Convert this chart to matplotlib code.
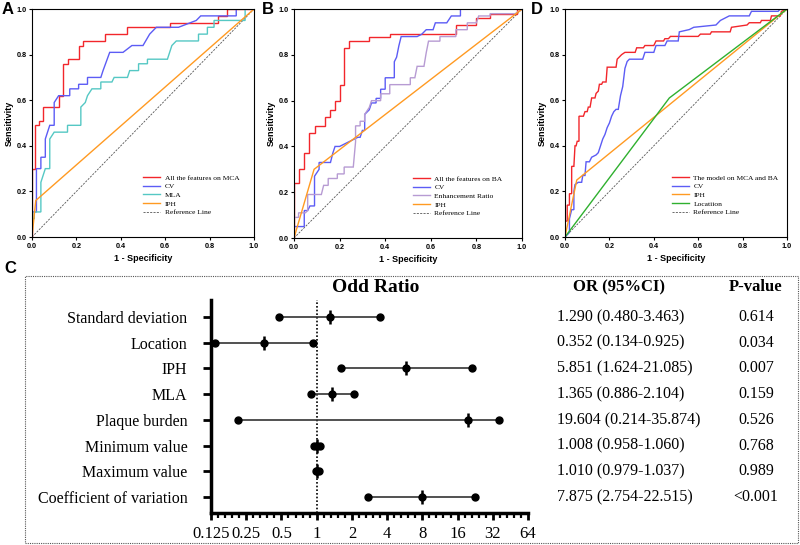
import numpy as np
import matplotlib
matplotlib.use('Agg')
import matplotlib.pyplot as plt
from matplotlib.patches import Rectangle
from matplotlib.transforms import blended_transform_factory
from matplotlib.ticker import FixedLocator

# ROC vertices: (1 - specificity, sensitivity)
mca_all = [(0, 0), (0, 0.30), (0.015, 0.30), (0.015, 0.49), (0.03, 0.49), (0.03, 0.51), (0.05, 0.51),
           (0.05, 0.57), (0.12, 0.57), (0.12, 0.62), (0.14, 0.62), (0.14, 0.76), (0.16, 0.76), (0.16, 0.78),
           (0.21, 0.78), (0.21, 0.84), (0.23, 0.84), (0.23, 0.86), (0.33, 0.86), (0.33, 0.89), (0.43, 0.89),
           (0.43, 0.92), (0.62, 0.92), (0.62, 0.94), (0.84, 0.94), (0.84, 0.97), (0.88, 0.97), (0.88, 1.0), (1, 1)]
mca_cv = [(0, 0), (0, 0.11), (0.02, 0.11), (0.02, 0.30), (0.04, 0.30), (0.04, 0.35), (0.06, 0.35), (0.06, 0.43),
          (0.07, 0.46), (0.08, 0.49), (0.10, 0.49), (0.10, 0.59), (0.12, 0.62), (0.17, 0.62), (0.17, 0.65),
          (0.21, 0.65), (0.21, 0.67), (0.25, 0.67), (0.25, 0.70), (0.31, 0.70), (0.32, 0.73), (0.35, 0.81),
          (0.41, 0.81), (0.45, 0.84), (0.50, 0.84), (0.53, 0.89), (0.56, 0.92), (0.66, 0.92), (0.74, 0.95),
          (0.76, 0.97), (0.92, 0.97), (0.92, 1.0), (1, 1)]
mca_mla = [(0, 0), (0, 0.08), (0.01, 0.08), (0.01, 0.11), (0.04, 0.11), (0.04, 0.24), (0.05, 0.27), (0.06, 0.30),
           (0.08, 0.30), (0.08, 0.43), (0.10, 0.46), (0.16, 0.46), (0.16, 0.49), (0.22, 0.49), (0.22, 0.57),
           (0.24, 0.59), (0.25, 0.62), (0.27, 0.65), (0.31, 0.65), (0.31, 0.68), (0.36, 0.68), (0.37, 0.70),
           (0.43, 0.70), (0.44, 0.73), (0.48, 0.73), (0.48, 0.76), (0.52, 0.76), (0.52, 0.78), (0.61, 0.78),
           (0.63, 0.84), (0.65, 0.86), (0.75, 0.86), (0.75, 0.89), (0.79, 0.89), (0.79, 0.92), (0.82, 0.92),
           (0.82, 0.95), (0.96, 0.95), (0.96, 1.0), (1, 1)]
mca_iph = [(0, 0), (0.017, 0.16), (1, 1)]

ba_all = [(0, 0), (0, 0.24), (0.02, 0.24), (0.02, 0.30), (0.045, 0.30), (0.045, 0.37), (0.066, 0.37),
          (0.066, 0.46), (0.09, 0.46), (0.09, 0.49), (0.135, 0.49), (0.135, 0.53), (0.157, 0.53), (0.157, 0.56),
          (0.18, 0.56), (0.18, 0.60), (0.20, 0.60), (0.20, 0.67), (0.22, 0.67), (0.22, 0.83), (0.24, 0.83),
          (0.24, 0.86), (0.33, 0.86), (0.33, 0.88), (0.42, 0.88), (0.42, 0.89), (0.71, 0.89), (0.71, 0.93),
          (0.80, 0.93), (0.80, 0.96), (0.86, 0.96), (0.86, 0.98), (0.98, 0.98), (0.98, 1.0), (1, 1)]
ba_cv = [(0, 0), (0, 0.05), (0.045, 0.05), (0.045, 0.12), (0.06, 0.12), (0.07, 0.14), (0.09, 0.14),
         (0.09, 0.27), (0.11, 0.30), (0.11, 0.33), (0.16, 0.33), (0.17, 0.37), (0.18, 0.40), (0.20, 0.40),
         (0.28, 0.44), (0.29, 0.44), (0.30, 0.47), (0.31, 0.47), (0.31, 0.54), (0.33, 0.56), (0.34, 0.59),
         (0.36, 0.59), (0.36, 0.61), (0.38, 0.61), (0.38, 0.65), (0.40, 0.65), (0.40, 0.70), (0.44, 0.70),
         (0.44, 0.77), (0.45, 0.79), (0.46, 0.84), (0.47, 0.88), (0.54, 0.88), (0.56, 0.89), (0.58, 0.91),
         (0.61, 0.91), (0.62, 0.94), (0.67, 0.94), (0.69, 0.97), (0.73, 0.97), (0.73, 1.0), (1, 1)]
ba_er = [(0, 0), (0, 0.09), (0.02, 0.09), (0.02, 0.11), (0.05, 0.11), (0.06, 0.12), (0.06, 0.19), (0.12, 0.19),
         (0.13, 0.23), (0.15, 0.23), (0.15, 0.26), (0.19, 0.26), (0.19, 0.28), (0.22, 0.28), (0.22, 0.31),
         (0.26, 0.31), (0.27, 0.42), (0.27, 0.49), (0.29, 0.49), (0.29, 0.51), (0.31, 0.51), (0.31, 0.54),
         (0.33, 0.57), (0.34, 0.60), (0.38, 0.60), (0.38, 0.63), (0.42, 0.63), (0.42, 0.67), (0.51, 0.67),
         (0.51, 0.70), (0.53, 0.70), (0.54, 0.75), (0.57, 0.75), (0.58, 0.81), (0.59, 0.86), (0.64, 0.86),
         (0.64, 0.88), (0.71, 0.88), (0.71, 0.91), (0.76, 0.91), (0.76, 0.94), (0.80, 0.94), (0.81, 0.97),
         (0.86, 0.97), (0.86, 0.98), (0.97, 0.98), (1, 1)]
ba_iph = [(0, 0), (0.088, 0.30), (1, 1)]

both_model = [(0, 0), (0, 0.07), (0.01, 0.07), (0.01, 0.14), (0.02, 0.14), (0.02, 0.19), (0.03, 0.19),
              (0.03, 0.31), (0.04, 0.31), (0.045, 0.40), (0.05, 0.40), (0.055, 0.42), (0.063, 0.42),
              (0.063, 0.53), (0.083, 0.53), (0.09, 0.55), (0.10, 0.55), (0.105, 0.57), (0.113, 0.57),
              (0.12, 0.61), (0.135, 0.61), (0.14, 0.63), (0.15, 0.64), (0.155, 0.67), (0.165, 0.67),
              (0.17, 0.68), (0.185, 0.68), (0.19, 0.745), (0.23, 0.745), (0.235, 0.78), (0.245, 0.79),
              (0.255, 0.80), (0.27, 0.81), (0.316, 0.81), (0.323, 0.83), (0.353, 0.83), (0.36, 0.84),
              (0.40, 0.84), (0.41, 0.86), (0.444, 0.86), (0.45, 0.87), (0.466, 0.87), (0.475, 0.88),
              (0.60, 0.88), (0.61, 0.89), (0.654, 0.89), (0.66, 0.90), (0.744, 0.90), (0.75, 0.92),
              (0.82, 0.93), (0.83, 0.94), (0.88, 0.94), (0.885, 0.95), (0.925, 0.95), (0.93, 0.97),
              (0.97, 0.97), (0.975, 0.99), (1, 1)]
both_cv = [(0, 0), (0.02, 0.02), (0.02, 0.08), (0.03, 0.12), (0.04, 0.12), (0.04, 0.20), (0.045, 0.23),
           (0.06, 0.24), (0.075, 0.24), (0.08, 0.27), (0.09, 0.27), (0.095, 0.33), (0.11, 0.33), (0.12, 0.35),
           (0.14, 0.36), (0.15, 0.37), (0.16, 0.40), (0.17, 0.43), (0.18, 0.45), (0.19, 0.48), (0.20, 0.50),
           (0.21, 0.53), (0.22, 0.55), (0.23, 0.56), (0.24, 0.56), (0.25, 0.62), (0.26, 0.66), (0.27, 0.74),
           (0.28, 0.77), (0.29, 0.78), (0.35, 0.78), (0.36, 0.81), (0.40, 0.81), (0.41, 0.84), (0.45, 0.84),
           (0.46, 0.86), (0.51, 0.86), (0.515, 0.90), (0.56, 0.91), (0.58, 0.92), (0.68, 0.93), (0.70, 0.95),
           (0.74, 0.97), (0.83, 0.97), (0.84, 0.99), (0.96, 0.99), (0.97, 1.0), (1, 1)]
both_iph = [(0, 0), (0.053, 0.25), (1, 1)]
both_loc = [(0, 0), (0.47, 0.61), (1, 1)]

# forest plot / table values
factors = ['Standard deviation', 'Location', 'IPH', 'MLA', 'Plaque burden',
           'Minimum value', 'Maximum value', 'Coefficient of variation']
odds = [1.290, 0.352, 5.851, 1.365, 19.604, 1.008, 1.010, 7.875]
ci_low = [0.480, 0.134, 1.624, 0.886, 0.214, 0.958, 0.979, 2.754]
ci_high = [3.463, 0.925, 21.085, 2.104, 35.874, 1.060, 1.037, 22.515]
p_values = ['0.614', '0.034', '0.007', '0.159', '0.526', '0.768', '0.989', '<0.001']
or_ticks = [0.125, 0.25, 0.5, 1, 2, 4, 8, 16, 32, 64]
or_tick_labels = ['0.125', '0.25', '0.5', '1', '2', '4', '8', '16', '32', '64']

RED = '#f2262b'
BLUE = '#5c5cf5'
CYAN = '#55c8c4'
ORANGE = '#ff9a22'
PURPLE = '#b79bd3'
GREEN = '#2fb02f'
SANS = 'Liberation Sans'
SERIF = 'Liberation Serif'

fig = plt.figure(figsize=(8, 5.45), dpi=100)


def roc_panel(rect, curves, leg_x):
    ax = fig.add_axes(rect)
    for pts, color, label in curves:
        xy = np.array(pts)
        ax.plot(xy[:, 0], xy[:, 1], color=color, lw=1.0, label=label, solid_joinstyle='miter')
    ax.plot([0, 1], [0, 1], color='#555555', lw=0.6, ls=(0, (2.5, 1.5)), label='Reference Line', zorder=1)
    ax.set_xlim(0, 1)
    ax.set_ylim(0, 1)
    ticks = np.arange(0, 1.01, 0.2)
    ax.set_xticks(ticks)
    ax.set_yticks(ticks)
    ax.set_xticklabels([f'{t:.1f}' for t in ticks])
    ax.set_yticklabels([f'{t:.1f}' for t in ticks])
    ax.tick_params(length=2.5, width=0.8, pad=1.5, labelsize=5.2)
    for lab in ax.get_xticklabels() + ax.get_yticklabels():
        lab.set_fontfamily(SANS)
        lab.set_fontweight('bold')
    for sp in ax.spines.values():
        sp.set_linewidth(0.8)
    ax.set_xlabel('1 - Specificity', fontsize=6.5, fontweight='bold', family=SANS, labelpad=3)
    ax.set_ylabel('Sensitivity', fontsize=6.5, fontweight='bold', family=SANS, labelpad=1.5)
    ax.legend(loc='lower left', bbox_to_anchor=(leg_x, 0.095), frameon=False,
              prop={'family': SERIF, 'size': 5.4}, handlelength=2.3, handletextpad=0.6,
              labelspacing=0.32, borderaxespad=0, borderpad=0)
    return ax


roc_panel([0.04, 0.5651, 0.2775, 0.4183],
          [(mca_all, RED, 'All the features on MCA'), (mca_cv, BLUE, 'CV'),
           (mca_mla, CYAN, 'MLA'), (mca_iph, ORANGE, 'IPH')], 0.5)
roc_panel([0.3675, 0.5633, 0.285, 0.420],
          [(ba_all, RED, 'All the features on BA'), (ba_cv, BLUE, 'CV'),
           (ba_er, PURPLE, 'Enhancement Ratio'), (ba_iph, ORANGE, 'IPH')], 0.52)
roc_panel([0.70625, 0.5651, 0.2775, 0.4183],
          [(both_model, RED, 'The model on MCA and BA'), (both_cv, BLUE, 'CV'),
           (both_iph, ORANGE, 'IPH'), (both_loc, GREEN, 'Locatiion')], 0.48)

# panel C: forest plot
ax = fig.add_axes([0.26375, 0.0587, 0.39625, 0.3908])
rows = np.arange(len(factors))
ax.hlines(rows, ci_low, ci_high, color='#333333', lw=1.2, zorder=2)
ax.plot(ci_low, rows, 'o', color='black', ms=5, zorder=3)
ax.plot(ci_high, rows, 'o', color='black', ms=5, zorder=3)
ax.plot(odds, rows, 'o', color='black', ms=5, zorder=3)
ax.plot(odds, rows, '|', color='black', ms=10, mew=1.8, zorder=3)
ax.axvline(1, color='black', lw=1.2, ls=(0, (1, 1.2)), zorder=1)
ax.set_xscale('log', base=2)
ax.set_xlim(0.125, 64)
ax.set_ylim(7.62, -0.66)
ax.xaxis.set_major_locator(FixedLocator(or_ticks))
ax.set_xticklabels(or_tick_labels)
minor = [2 ** (k + j / 5) for k in range(-3, 6) for j in range(1, 5)]
ax.xaxis.set_minor_locator(FixedLocator(minor))
ax.xaxis.set_minor_formatter(plt.NullFormatter())
ax.set_yticks(rows)
ax.set_yticklabels(factors)
ax.tick_params(axis='x', which='major', length=5, width=2, labelsize=12, pad=4)
ax.tick_params(axis='x', which='minor', length=3.5, width=1.6)
ax.tick_params(axis='y', length=6, width=2, labelsize=11.5, pad=11)
for lab in ax.get_xticklabels() + ax.get_yticklabels():
    lab.set_fontfamily(SERIF)
for side in ['top', 'right']:
    ax.spines[side].set_visible(False)
ax.spines['left'].set_linewidth(2.5)
ax.spines['bottom'].set_linewidth(2.5)

fig.text(0.47, 1 - 287 / 545, 'Odd Ratio', ha='center', va='center', fontsize=14,
         fontweight='bold', family=SERIF)
fig.text(0.774, 1 - 287 / 545, 'OR (95%CI)', ha='center', va='center', fontsize=12,
         fontweight='bold', family=SERIF)
fig.text(0.945, 1 - 287 / 545, 'P-value', ha='center', va='center', fontsize=12,
         fontweight='bold', family=SERIF)
tr = blended_transform_factory(fig.transFigure, ax.transData)
for i in rows:
    ax.text(0.696, i, f'{odds[i]:.3f} ({ci_low[i]:.3f}-{ci_high[i]:.3f})', transform=tr,
            ha='left', va='center', fontsize=11.5, family=SERIF)
    ax.text(0.945, i, p_values[i], transform=tr, ha='center', va='center',
            fontsize=11.5, family=SERIF)

fig.patches.append(Rectangle((25 / 800, 2 / 545), 773 / 800, 267 / 545, transform=fig.transFigure,
                             fill=False, ls=(0, (1, 1)), lw=0.8, edgecolor='#555555'))

for letter, x, y in [('A', 0.002, 0.997), ('B', 0.327, 0.997), ('D', 0.664, 0.997), ('C', 0.006, 0.522)]:
    fig.text(x, y, letter, ha='left', va='top', fontsize=12, fontweight='bold', family=SANS)

fig.savefig('out.png', dpi=100)
